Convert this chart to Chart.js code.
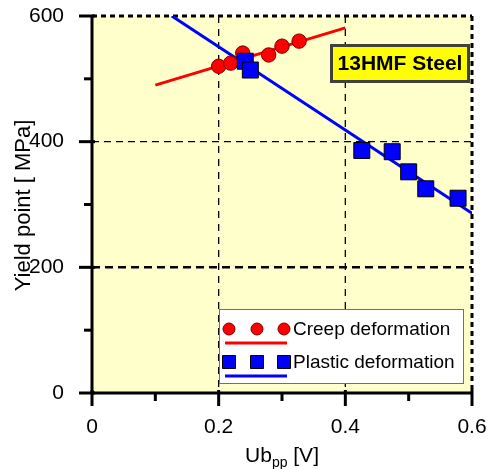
<!DOCTYPE html>
<html>
<head>
<meta charset="utf-8">
<script src="https://cdn.jsdelivr.net/npm/chart.js@4/dist/chart.umd.min.js"></script>
<style>
  html, body { margin: 0; padding: 0; background: #fff; }
  #wrap { width: 492px; height: 469px; }
</style>
</head>
<body>
<div id="wrap"><canvas id="chart" width="492" height="469"></canvas></div>
<script>
var creepX = [0.200, 0.219, 0.238, 0.279, 0.300, 0.327];
var creepY = [520, 525, 541, 538, 552, 560];
var plasticX = [0.242, 0.250, 0.426, 0.474, 0.500, 0.527, 0.578];
var plasticY = [528, 514, 386, 384, 352, 325, 310];
// fitted lines (end points)
var creepFitX = [0.10, 0.40];
var creepFitY = [490, 581];
var plasticFitX = [0.126, 0.60];
var plasticFitY = [600, 286];

var xTicks = [0, 0.2, 0.4, 0.6];
var xMinor = [0.1, 0.3, 0.5];
var yTicks = [0, 200, 400, 600];
var yMinor = [100, 300, 500];
var seriesNames = ['Creep deformation', 'Plastic deformation'];
var boxLabel = '13HMF Steel';

var FONT = "'Liberation Sans', Arial, sans-serif";

function pts(xs, ys) {
  return xs.map(function (x, i) { return { x: x, y: ys[i] }; });
}

function dashLine(ctx, x1, y1, x2, y2, w, dash) {
  ctx.beginPath();
  ctx.lineWidth = w;
  ctx.setLineDash(dash);
  ctx.moveTo(x1, y1);
  ctx.lineTo(x2, y2);
  ctx.stroke();
}

function marker(ctx, ds, x, y, r) {
  ctx.setLineDash([]);
  ctx.fillStyle = ds.backgroundColor;
  ctx.strokeStyle = ds.borderColor;
  ctx.lineWidth = 1;
  ctx.beginPath();
  if (ds.pointStyle === 'rect') {
    ctx.rect(x - r, y - r, 2 * r, 2 * r);
  } else {
    ctx.arc(x, y, r, 0, Math.PI * 2);
  }
  ctx.fill();
  ctx.stroke();
}

function noPad(s) {
  s.paddingTop = 0; s.paddingBottom = 0; s.paddingLeft = 0; s.paddingRight = 0;
}

var frame = {
  id: 'frame',
  beforeDatasetsDraw: function (chart) {
    var ctx = chart.ctx, a = chart.chartArea, xs = chart.scales.x, ys = chart.scales.y;
    ctx.save();
    ctx.fillStyle = '#ffffcc';
    ctx.fillRect(a.left, a.top, a.right - a.left, a.bottom - a.top);
    ctx.strokeStyle = '#000';
    // inner grid
    [0.2, 0.4].forEach(function (v) {
      var px = xs.getPixelForValue(v);
      dashLine(ctx, px, a.top, px, a.bottom, 1.3, [7, 6]);
    });
    var p400 = ys.getPixelForValue(400);
    dashLine(ctx, a.left, p400, a.right, p400, 1.3, [7, 5]);
    var p200 = ys.getPixelForValue(200);
    dashLine(ctx, a.left, p200, a.right, p200, 2.5, [8, 5]);
    // top and right frame
    dashLine(ctx, a.left, a.top, a.right, a.top, 3, [5, 4]);
    dashLine(ctx, a.right, a.top, a.right, a.bottom, 3, [5, 4]);
    ctx.restore();
  },
  afterDatasetsDraw: function (chart) {
    var ctx = chart.ctx, a = chart.chartArea, xs = chart.scales.x, ys = chart.scales.y;
    var dsets = chart.data.datasets;
    ctx.save();
    ctx.strokeStyle = '#000';
    // axes
    dashLine(ctx, a.left, a.top - 1, a.left, a.bottom + 1, 3, []);
    dashLine(ctx, a.left - 1, a.bottom, a.right + 1, a.bottom, 3, []);
    yTicks.forEach(function (v) {
      var p = ys.getPixelForValue(v);
      dashLine(ctx, a.left - 13, p, a.left + 3, p, 3, []);
    });
    yMinor.forEach(function (v) {
      var p = ys.getPixelForValue(v);
      dashLine(ctx, a.left - 8, p, a.left, p, 3, []);
    });
    xTicks.forEach(function (v) {
      var p = xs.getPixelForValue(v);
      dashLine(ctx, p, a.bottom - 3, p, a.bottom + 13, 3, []);
    });
    xMinor.forEach(function (v) {
      var p = xs.getPixelForValue(v);
      dashLine(ctx, p, a.bottom, p, a.bottom + 8, 3, []);
    });

    // legend box
    var lx = a.left + 127, ly = a.top + 293;
    ctx.setLineDash([]);
    ctx.fillStyle = '#fff';
    ctx.fillRect(lx, ly, 244, 74);
    ctx.strokeStyle = '#707070';
    ctx.lineWidth = 1;
    ctx.strokeRect(lx + 0.5, ly + 0.5, 244, 74);
    var rows = [
      { pts: dsets[1], line: dsets[3], name: seriesNames[0], r: 6, y: 20 },
      { pts: dsets[0], line: dsets[2], name: seriesNames[1], r: 6.5, y: 53 }
    ];
    rows.forEach(function (row) {
      [10, 38, 65].forEach(function (dx) {
        marker(ctx, row.pts, lx + dx, ly + row.y, row.r);
      });
      ctx.strokeStyle = row.line.borderColor;
      dashLine(ctx, lx + 6, ly + row.y + 14, lx + 68, ly + row.y + 14, 3, []);
      ctx.fillStyle = '#000';
      ctx.font = '19px ' + FONT;
      ctx.textAlign = 'left';
      ctx.textBaseline = 'middle';
      ctx.fillText(row.name, lx + 74, ly + row.y + 1);
    });

    // steel label
    var bx = a.right - 141, by = a.top + 29;
    ctx.fillStyle = '#ffff00';
    ctx.fillRect(bx, by, 137, 36);
    ctx.strokeStyle = '#404040';
    ctx.strokeRect(bx + 0.5, by + 0.5, 137, 36);
    ctx.fillStyle = '#000';
    ctx.font = 'bold 21px ' + FONT;
    ctx.textAlign = 'center';
    ctx.textBaseline = 'middle';
    ctx.fillText(boxLabel, bx + 69, by + 19);

    // axis titles
    ctx.font = '21px ' + FONT;
    ctx.textBaseline = 'alphabetic';
    ctx.textAlign = 'left';
    var w1 = ctx.measureText('Ub').width;
    ctx.font = '14px ' + FONT;
    var w2 = ctx.measureText('pp').width;
    ctx.font = '21px ' + FONT;
    var w3 = ctx.measureText(' [V]').width;
    var tx = (a.left + a.right) / 2 - (w1 + w2 + w3) / 2, tyb = a.bottom + 69;
    ctx.fillText('Ub', tx, tyb);
    ctx.font = '14px ' + FONT;
    ctx.fillText('pp', tx + w1, tyb + 5);
    ctx.font = '21px ' + FONT;
    ctx.fillText(' [V]', tx + w1 + w2, tyb);

    ctx.font = '22px ' + FONT;
    ctx.translate(30, (a.top + a.bottom) / 2 + 1);
    ctx.rotate(-Math.PI / 2);
    ctx.textAlign = 'center';
    ctx.fillText('Yield point [ MPa]', 0, 0);
    ctx.restore();
  }
};

new Chart(document.getElementById('chart').getContext('2d'), {
  type: 'scatter',
  data: {
    datasets: [
      {
        label: seriesNames[1],
        data: pts(plasticX, plasticY),
        pointStyle: 'rect',
        pointRadius: 11.3,
        backgroundColor: '#0000ff',
        borderColor: '#000000',
        borderWidth: 1
      },
      {
        label: seriesNames[0],
        data: pts(creepX, creepY),
        pointStyle: 'circle',
        pointRadius: 7.2,
        backgroundColor: '#ff0000',
        borderColor: '#7a0000',
        borderWidth: 1
      },
      {
        label: 'plastic fit',
        data: pts(plasticFitX, plasticFitY),
        showLine: true,
        pointRadius: 0,
        borderColor: '#0000ff',
        borderWidth: 3
      },
      {
        label: 'creep fit',
        data: pts(creepFitX, creepFitY),
        showLine: true,
        pointRadius: 0,
        borderColor: '#ff0000',
        borderWidth: 3
      }
    ]
  },
  options: {
    responsive: false,
    animation: false,
    devicePixelRatio: 1,
    events: [],
    layout: { padding: { top: 16, right: 20, left: 0, bottom: 0 } },
    plugins: { legend: { display: false }, tooltip: { enabled: false } },
    scales: {
      x: {
        type: 'linear', min: 0, max: 0.6,
        grid: { display: false }, border: { display: false },
        afterBuildTicks: function (s) { s.ticks = xTicks.map(function (v) { return { value: v }; }); },
        afterFit: function (s) { s.height = 76; noPad(s); },
        ticks: {
          color: '#000', padding: 14, maxRotation: 0,
          font: { family: FONT, size: 21 },
          callback: function (v) { return v === 0 ? '0' : v.toFixed(1); }
        }
      },
      y: {
        type: 'linear', min: 0, max: 600,
        grid: { display: false }, border: { display: false },
        afterBuildTicks: function (s) { s.ticks = yTicks.map(function (v) { return { value: v }; }); },
        afterFit: function (s) { s.width = 92; noPad(s); },
        ticks: {
          color: '#000', padding: 20,
          font: { family: FONT, size: 21 }
        }
      }
    }
  },
  plugins: [frame]
});
</script>
</body>
</html>
